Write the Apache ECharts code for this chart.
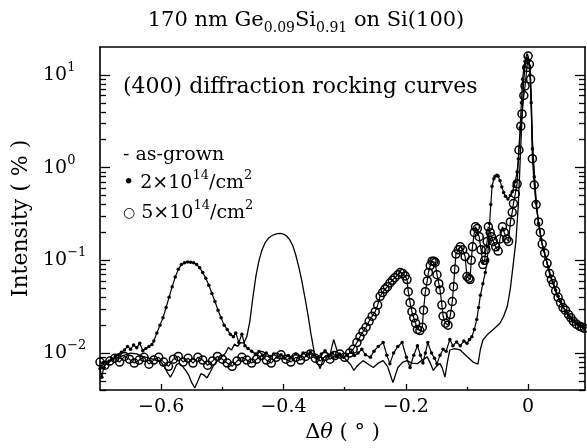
<!DOCTYPE html>
<html lang="en">
<head>
<meta charset="UTF-8">
<title>GeSi rocking curves</title>
<style>
    html, body { margin: 0; padding: 0; background: #fff; }
    #main { width: 587px; height: 448px; }
</style>
</head>
<body>
<div id="main"></div>
<script src="https://cdn.jsdelivr.net/npm/echarts@6/dist/echarts.min.js"></script>
<script>
    // [delta theta (deg), intensity (%)]
    var asGrown = [
        [-0.700,0.0078],[-0.690,0.0080],[-0.680,0.0085],[-0.670,0.0090],[-0.660,0.0095],[-0.650,0.0100],
        [-0.640,0.0098],[-0.630,0.0092],[-0.620,0.0088],[-0.610,0.0085],[-0.600,0.0080],[-0.595,0.0072],
        [-0.590,0.0062],[-0.585,0.0055],[-0.580,0.0063],[-0.575,0.0075],[-0.570,0.0078],[-0.565,0.0072],
        [-0.560,0.0065],[-0.555,0.0058],[-0.550,0.0048],[-0.545,0.0042],[-0.540,0.0050],[-0.535,0.0060],
        [-0.530,0.0058],[-0.525,0.0054],[-0.520,0.0062],[-0.515,0.0072],[-0.510,0.0080],[-0.505,0.0086],
        [-0.500,0.0092],[-0.495,0.0100],[-0.490,0.0115],[-0.485,0.0108],[-0.480,0.0125],[-0.475,0.0118],
        [-0.470,0.0130],[-0.465,0.0128],[-0.460,0.0150],[-0.455,0.0220],[-0.450,0.0400],[-0.445,0.0680],
        [-0.440,0.1000],[-0.435,0.1300],[-0.430,0.1550],[-0.425,0.1720],[-0.420,0.1830],[-0.415,0.1900],
        [-0.410,0.1940],[-0.405,0.1950],[-0.400,0.1920],[-0.395,0.1830],[-0.390,0.1680],[-0.385,0.1450],
        [-0.380,0.1150],[-0.375,0.0850],[-0.370,0.0600],[-0.365,0.0400],[-0.360,0.0260],[-0.355,0.0160],
        [-0.350,0.0105],[-0.345,0.0080],[-0.340,0.0068],[-0.335,0.0088],[-0.330,0.0095],[-0.325,0.0090],
        [-0.318,0.0140],[-0.310,0.0095],[-0.300,0.0088],[-0.290,0.0075],[-0.285,0.0065],[-0.280,0.0072],
        [-0.270,0.0083],[-0.260,0.0075],[-0.253,0.0070],[-0.245,0.0078],[-0.237,0.0083],[-0.230,0.0072],
        [-0.221,0.0048],[-0.213,0.0070],[-0.205,0.0080],[-0.198,0.0083],[-0.190,0.0078],[-0.181,0.0077],
        [-0.172,0.0085],[-0.165,0.0091],[-0.160,0.0078],[-0.155,0.0065],[-0.150,0.0072],[-0.144,0.0077],
        [-0.140,0.0068],[-0.136,0.0055],[-0.132,0.0080],[-0.128,0.0108],[-0.120,0.0112],[-0.111,0.0108],
        [-0.100,0.0092],[-0.090,0.0080],[-0.082,0.0076],[-0.078,0.0110],[-0.074,0.0138],[-0.066,0.0160],
        [-0.057,0.0180],[-0.046,0.0210],[-0.040,0.0250],[-0.034,0.0320],[-0.029,0.0500],[-0.024,0.0950],
        [-0.020,0.1600],[-0.016,0.4000],[-0.013,1.2000],[-0.010,3.5000],[-0.007,9.0000],[-0.004,15.000],
        [-0.002,17.000],[0.000,16.000],[0.003,12.000],[0.005,6.0000],[0.007,2.0000],[0.010,0.9000],
        [0.013,0.4500],[0.017,0.2500],[0.022,0.1600],[0.027,0.1200],[0.031,0.0930],[0.036,0.0700],
        [0.041,0.0560],[0.045,0.0470],[0.049,0.0400],[0.055,0.0330],[0.060,0.0290],[0.067,0.0250],
        [0.074,0.0220],[0.081,0.0200],[0.088,0.0190],[0.093,0.0180]
    ];

    var dose2e14 = [
        [-0.700,0.0068],[-0.697,0.0055],[-0.694,0.0070],[-0.690,0.0078],[-0.685,0.0082],[-0.680,0.0086],
        [-0.675,0.0092],[-0.670,0.0096],[-0.665,0.0102],[-0.660,0.0108],[-0.655,0.0118],[-0.650,0.0110],
        [-0.645,0.0122],[-0.640,0.0114],[-0.635,0.0128],[-0.630,0.0106],[-0.625,0.0112],[-0.620,0.0118],
        [-0.615,0.0124],[-0.612,0.0135],[-0.607,0.0165],[-0.602,0.0200],[-0.597,0.0240],[-0.592,0.0310],
        [-0.587,0.0400],[-0.582,0.0520],[-0.577,0.0660],[-0.572,0.0800],[-0.567,0.0900],[-0.562,0.0940],
        [-0.557,0.0960],[-0.552,0.0955],[-0.547,0.0945],[-0.542,0.0900],[-0.537,0.0830],[-0.532,0.0740],
        [-0.527,0.0640],[-0.522,0.0540],[-0.517,0.0440],[-0.512,0.0360],[-0.507,0.0290],[-0.502,0.0240],
        [-0.497,0.0200],[-0.492,0.0180],[-0.487,0.0160],[-0.482,0.0150],[-0.478,0.0165],[-0.473,0.0130],
        [-0.468,0.0160],[-0.463,0.0120],[-0.458,0.0112],[-0.452,0.0105],[-0.446,0.0098],[-0.440,0.0104],
        [-0.434,0.0095],[-0.428,0.0100],[-0.422,0.0092],[-0.416,0.0098],[-0.410,0.0090],[-0.404,0.0096],
        [-0.398,0.0088],[-0.392,0.0094],[-0.386,0.0090],[-0.380,0.0098],[-0.374,0.0092],[-0.368,0.0100],
        [-0.362,0.0094],[-0.356,0.0102],[-0.350,0.0096],[-0.344,0.0090],[-0.338,0.0098],[-0.332,0.0106],
        [-0.326,0.0095],[-0.320,0.0100],[-0.314,0.0092],[-0.308,0.0098],[-0.302,0.0090],[-0.296,0.0096],
        [-0.290,0.0102],[-0.284,0.0094],[-0.278,0.0100],[-0.272,0.0110],[-0.266,0.0096],[-0.258,0.0090],
        [-0.252,0.0105],[-0.245,0.0118],[-0.237,0.0130],[-0.231,0.0095],[-0.226,0.0077],[-0.220,0.0100],
        [-0.213,0.0118],[-0.206,0.0130],[-0.199,0.0090],[-0.193,0.0070],[-0.187,0.0095],[-0.181,0.0120],
        [-0.176,0.0095],[-0.172,0.0078],[-0.168,0.0100],[-0.164,0.0130],[-0.158,0.0100],[-0.153,0.0088],
        [-0.149,0.0077],[-0.144,0.0095],[-0.139,0.0110],[-0.134,0.0105],[-0.128,0.0140],[-0.123,0.0120],
        [-0.117,0.0132],[-0.111,0.0120],[-0.105,0.0135],[-0.100,0.0128],[-0.096,0.0140],[-0.092,0.0150],
        [-0.088,0.0180],[-0.084,0.0230],[-0.081,0.0310],[-0.078,0.0420],[-0.074,0.0560],[-0.070,0.0740],
        [-0.067,0.1000],[-0.065,0.1400],[-0.063,0.2500],[-0.061,0.4000],[-0.059,0.6300],[-0.056,0.7600],
        [-0.054,0.8100],[-0.051,0.8300],[-0.049,0.8100],[-0.046,0.7200],[-0.043,0.6200],[-0.040,0.5400],
        [-0.037,0.4900],[-0.033,0.4600],[-0.029,0.5000],[-0.026,0.5500],[-0.023,0.6300],[-0.021,0.7100],
        [-0.018,0.9000],[-0.016,1.2500],[-0.013,2.7000],[-0.011,5.0000],[-0.009,9.0000],[-0.007,12.000],
        [-0.005,14.000],[-0.002,15.000],[0.001,14.000],[0.003,10.000],[0.005,5.0000],[0.007,1.6000],
        [0.010,0.8000],[0.013,0.4200],[0.017,0.2500],[0.021,0.1700],[0.025,0.1300],[0.029,0.1050],
        [0.033,0.0850],[0.037,0.0680],[0.041,0.0570],[0.045,0.0480],[0.049,0.0410],[0.053,0.0360],
        [0.057,0.0320],[0.062,0.0280],[0.067,0.0250],[0.072,0.0230],[0.077,0.0215],[0.082,0.0205],
        [0.087,0.0195],[0.092,0.0185]
    ];

    var dose5e14 = [
        [-0.700,0.0080],[-0.692,0.0074],[-0.684,0.0082],[-0.676,0.0088],[-0.668,0.0080],[-0.660,0.0092],
        [-0.652,0.0086],[-0.644,0.0078],[-0.636,0.0084],[-0.628,0.0090],[-0.620,0.0076],[-0.612,0.0084],
        [-0.604,0.0090],[-0.596,0.0080],[-0.588,0.0072],[-0.580,0.0086],[-0.572,0.0092],[-0.564,0.0080],
        [-0.556,0.0088],[-0.548,0.0078],[-0.540,0.0090],[-0.532,0.0084],[-0.524,0.0074],[-0.516,0.0082],
        [-0.508,0.0092],[-0.500,0.0086],[-0.492,0.0078],[-0.484,0.0072],[-0.476,0.0082],[-0.468,0.0090],
        [-0.460,0.0084],[-0.452,0.0078],[-0.444,0.0086],[-0.436,0.0094],[-0.428,0.0084],[-0.420,0.0078],
        [-0.412,0.0090],[-0.404,0.0096],[-0.396,0.0086],[-0.388,0.0080],[-0.380,0.0090],[-0.372,0.0084],
        [-0.364,0.0092],[-0.356,0.0098],[-0.348,0.0088],[-0.340,0.0082],[-0.332,0.0092],[-0.324,0.0086],
        [-0.316,0.0094],[-0.308,0.0098],[-0.300,0.0090],[-0.292,0.0100],[-0.286,0.0110],[-0.280,0.0130],
        [-0.275,0.0150],[-0.270,0.0170],[-0.265,0.0190],[-0.260,0.0220],[-0.255,0.0250],[-0.250,0.0280],
        [-0.246,0.0330],[-0.242,0.0410],[-0.238,0.0450],[-0.234,0.0490],[-0.230,0.0520],[-0.226,0.0570],
        [-0.222,0.0610],[-0.218,0.0650],[-0.213,0.0700],[-0.209,0.0740],[-0.205,0.0720],[-0.201,0.0680],
        [-0.198,0.0620],[-0.196,0.0460],[-0.193,0.0350],[-0.190,0.0280],[-0.187,0.0240],[-0.184,0.0210],
        [-0.181,0.0180],[-0.177,0.0175],[-0.173,0.0190],[-0.171,0.0290],[-0.168,0.0460],[-0.165,0.0600],
        [-0.163,0.0740],[-0.160,0.0880],[-0.157,0.0980],[-0.154,0.0980],[-0.152,0.0950],[-0.149,0.0700],
        [-0.146,0.0560],[-0.144,0.0480],[-0.141,0.0330],[-0.139,0.0250],[-0.135,0.0210],[-0.131,0.0200],
        [-0.127,0.0260],[-0.124,0.0360],[-0.122,0.0520],[-0.120,0.0800],[-0.118,0.1170],[-0.114,0.1300],
        [-0.111,0.1400],[-0.107,0.1300],[-0.103,0.1100],[-0.100,0.0670],[-0.097,0.0640],[-0.095,0.0620],
        [-0.093,0.1000],[-0.091,0.1400],[-0.088,0.2000],[-0.086,0.2300],[-0.083,0.2200],[-0.080,0.1800],
        [-0.077,0.1300],[-0.074,0.0900],[-0.071,0.1000],[-0.069,0.1300],[-0.067,0.1600],[-0.065,0.2300],
        [-0.062,0.2000],[-0.060,0.1800],[-0.057,0.1600],[-0.053,0.1400],[-0.049,0.1260],[-0.046,0.1700],
        [-0.042,0.2300],[-0.039,0.2000],[-0.035,0.1700],[-0.032,0.1600],[-0.029,0.2600],[-0.026,0.3300],
        [-0.024,0.4100],[-0.021,0.5200],[-0.018,0.6700],[-0.015,1.5500],[-0.012,2.8000],[-0.010,3.8000],
        [-0.007,6.0000],[-0.005,7.6000],[-0.002,12.000],[0.000,16.000],[0.002,13.000],[0.004,9.0000],
        [0.007,1.2500],[0.010,0.6500],[0.013,0.4000],[0.017,0.2600],[0.020,0.2000],[0.023,0.1500],
        [0.027,0.1200],[0.031,0.0930],[0.035,0.0720],[0.038,0.0620],[0.041,0.0560],[0.045,0.0470],
        [0.049,0.0400],[0.053,0.0350],[0.057,0.0310],[0.061,0.0290],[0.066,0.0260],[0.070,0.0240],
        [0.074,0.0220],[0.079,0.0205],[0.084,0.0195],[0.088,0.0190],[0.092,0.0185]
    ];

    // tick positions
    var xMajorTicks = [-0.6, -0.4, -0.2, 0];
    var xMinorTicks = [-0.5, -0.3, -0.1];
    var yMajorTicks = [0.01, 0.1, 1, 10];
    var yMinorTicks = [0.004, 0.005, 0.006, 0.007, 0.008, 0.009,
        0.02, 0.03, 0.04, 0.05, 0.06, 0.07, 0.08, 0.09,
        0.2, 0.3, 0.4, 0.5, 0.6, 0.7, 0.8, 0.9,
        2, 3, 4, 5, 6, 7, 8, 9];

    var serif = 'DejaVu Serif';
    var black = '#000';
    var xMin = -0.7, xMax = 0.093, yMin = 0.004, yMax = 20;

    var frameLine = { show: true, onZero: false, lineStyle: { color: black, width: 1.6 } };
    var noLine = { show: false, onZero: false };
    var supStyle = { fontFamily: serif, fontSize: 13, color: black, padding: [0, 0, 15, 0] };

    function xAxisOf(pos, ticks, len, line, labels) {
        return {
            type: 'value', position: pos, min: xMin, max: xMax,
            axisLine: line ? frameLine : noLine,
            axisTick: ticks ? { show: true, inside: true, length: len, customValues: ticks,
                lineStyle: { color: black, width: 1.3 } } : { show: false },
            axisLabel: labels ? {
                customValues: xMajorTicks, color: black, fontFamily: serif, fontSize: 19, margin: 8,
                formatter: function (v) { return v === 0 ? '0' : (v < 0 ? '\u2212' : '') + Math.abs(v).toFixed(1); }
            } : { show: false },
            splitLine: { show: false }
        };
    }

    function yAxisOf(pos, ticks, len, line, labels) {
        return {
            type: 'log', logBase: 10, position: pos, min: yMin, max: yMax,
            axisLine: line ? frameLine : noLine,
            axisTick: { show: true, inside: true, length: len, customValues: ticks,
                lineStyle: { color: black, width: 1.3 } },
            axisLabel: labels ? {
                customValues: yMajorTicks, color: black, fontFamily: serif, fontSize: 19,
                align: 'left', margin: 57,
                formatter: function (v) {
                    var e = Math.round(Math.log10(v));
                    return '10{sup|' + String(e).replace('-', '\u2212') + '}';
                },
                rich: { sup: supStyle }
            } : { show: false },
            splitLine: { show: false },
            minorTick: { show: false }
        };
    }

    var xBottom = xAxisOf('bottom', xMajorTicks, 6, true, true);
    xBottom.name = '\u0394{i|\u03b8} ( \u00b0 )';
    xBottom.nameLocation = 'middle';
    xBottom.nameGap = 30;
    xBottom.nameTextStyle = { fontFamily: serif, fontSize: 21, color: black,
        rich: { i: { fontFamily: serif, fontSize: 21, fontStyle: 'italic', color: black } } };

    var yLeft = yAxisOf('left', yMajorTicks, 10, true, true);
    yLeft.name = 'Intensity ( % )';
    yLeft.nameLocation = 'middle';
    yLeft.nameGap = 64;
    yLeft.nameTextStyle = { fontFamily: serif, fontSize: 22, color: black };

    var myChart = echarts.init(document.getElementById('main'));
    var option = {
        animation: false,
        backgroundColor: '#fff',
        grid: { left: 100, right: 2, top: 47, bottom: 58, outerBoundsMode: 'none' },
        xAxis: [
            xBottom,
            xAxisOf('bottom', xMinorTicks, 3, false, false),
            xAxisOf('top', null, 0, true, false)
        ],
        yAxis: [
            yLeft,
            yAxisOf('left', yMinorTicks, 6, false, false),
            yAxisOf('right', yMajorTicks, 10, true, false),
            yAxisOf('right', yMinorTicks, 6, false, false)
        ],
        graphic: [
            { type: 'text', x: 306, y: 21, style: {
                text: '170 nm Ge{sub|0.09}Si{sub|0.91} on Si(100)',
                fontFamily: serif, fontSize: 21, fill: black, align: 'center', verticalAlign: 'middle',
                rich: { sub: { fontFamily: serif, fontSize: 14, fill: black, padding: [14, 0, 0, 0] } } } },
            { type: 'text', x: 123, y: 87, style: {
                text: '(400) diffraction rocking curves',
                fontFamily: serif, fontSize: 22, fill: black, verticalAlign: 'middle' } },
            { type: 'text', x: 123, y: 155, style: {
                text: '- as-grown',
                fontFamily: serif, fontSize: 19, fill: black, verticalAlign: 'middle' } },
            { type: 'text', x: 123, y: 183, style: {
                text: '\u2022 2\u00d710{sup|14}/cm{sup|2}',
                fontFamily: serif, fontSize: 19, fill: black, verticalAlign: 'middle',
                rich: { sup: { fontFamily: serif, fontSize: 13, fill: black, padding: [0, 0, 15, 0] } } } },
            { type: 'text', x: 123, y: 213, style: {
                text: '{o|\u25cb} 5\u00d710{sup|14}/cm{sup|2}',
                fontFamily: serif, fontSize: 19, fill: black, verticalAlign: 'middle',
                rich: {
                    o: { fontFamily: 'DejaVu Sans', fontSize: 14, fill: black },
                    sup: { fontFamily: serif, fontSize: 13, fill: black, padding: [0, 0, 15, 0] }
                } } }
        ],
        series: [
            {
                name: 'as-grown', type: 'line', data: asGrown, symbol: 'none',
                lineStyle: { color: black, width: 1.3 }, z: 3
            },
            {
                name: '2\u00d710^14/cm^2', type: 'line', data: dose2e14,
                symbol: 'circle', symbolSize: 3.5,
                itemStyle: { color: black },
                lineStyle: { color: black, width: 1.2 }, z: 4
            },
            {
                name: '5\u00d710^14/cm^2', type: 'line', data: dose5e14,
                symbol: 'circle', symbolSize: 8,
                itemStyle: { color: 'transparent', borderColor: black, borderWidth: 1.5 },
                lineStyle: { color: black, width: 1.2 }, z: 5
            }
        ]
    };
    myChart.setOption(option);
</script>
</body>
</html>
